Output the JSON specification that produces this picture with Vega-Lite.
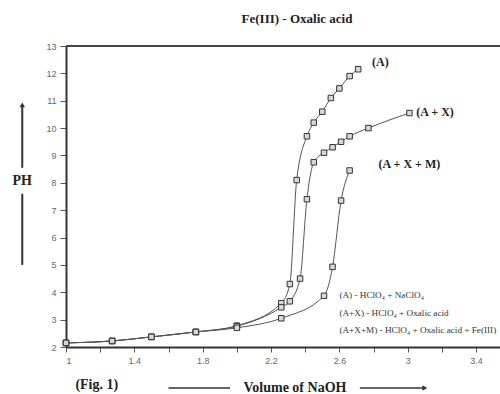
{
  "$schema": "https://vega.github.io/schema/vega-lite/v6.json",
  "autosize": "none",
  "width": 434,
  "height": 301,
  "padding": {"left": 66, "top": 46, "right": 0, "bottom": 47},
  "background": "white",
  "config": {"view": {"stroke": null}},
  "title": {"text": "Fe(III) - Oxalic acid", "font": "Liberation Serif", "fontSize": 13, "fontWeight": "bold", "color": "#222", "anchor": "middle", "offset": 16, "dx": 14},
  "datasets": {
    "curves": [
      {"series": "A", "v": 1.0, "ph": 2.15},
      {"series": "A", "v": 1.27, "ph": 2.22},
      {"series": "A", "v": 1.5, "ph": 2.37},
      {"series": "A", "v": 1.76, "ph": 2.55},
      {"series": "A", "v": 2.0, "ph": 2.78},
      {"series": "A", "v": 2.26, "ph": 3.6},
      {"series": "A", "v": 2.31, "ph": 4.3},
      {"series": "A", "v": 2.35, "ph": 8.1},
      {"series": "A", "v": 2.41, "ph": 9.7},
      {"series": "A", "v": 2.45, "ph": 10.2},
      {"series": "A", "v": 2.5, "ph": 10.6},
      {"series": "A", "v": 2.55, "ph": 11.1},
      {"series": "A", "v": 2.6, "ph": 11.45},
      {"series": "A", "v": 2.66, "ph": 11.9},
      {"series": "A", "v": 2.71, "ph": 12.15},
      {"series": "A+X", "v": 1.0, "ph": 2.15},
      {"series": "A+X", "v": 1.27, "ph": 2.22},
      {"series": "A+X", "v": 1.5, "ph": 2.37},
      {"series": "A+X", "v": 1.76, "ph": 2.55},
      {"series": "A+X", "v": 2.0, "ph": 2.76},
      {"series": "A+X", "v": 2.26, "ph": 3.45},
      {"series": "A+X", "v": 2.31, "ph": 3.67},
      {"series": "A+X", "v": 2.37, "ph": 4.5},
      {"series": "A+X", "v": 2.41, "ph": 7.4},
      {"series": "A+X", "v": 2.45, "ph": 8.75},
      {"series": "A+X", "v": 2.51, "ph": 9.1},
      {"series": "A+X", "v": 2.56, "ph": 9.3},
      {"series": "A+X", "v": 2.61, "ph": 9.5},
      {"series": "A+X", "v": 2.66, "ph": 9.7},
      {"series": "A+X", "v": 2.77, "ph": 10.0},
      {"series": "A+X", "v": 3.01, "ph": 10.55},
      {"series": "A+X+M", "v": 1.0, "ph": 2.15},
      {"series": "A+X+M", "v": 1.27, "ph": 2.22},
      {"series": "A+X+M", "v": 1.5, "ph": 2.37},
      {"series": "A+X+M", "v": 1.76, "ph": 2.55},
      {"series": "A+X+M", "v": 2.0, "ph": 2.7},
      {"series": "A+X+M", "v": 2.26, "ph": 3.05},
      {"series": "A+X+M", "v": 2.51, "ph": 3.87},
      {"series": "A+X+M", "v": 2.56, "ph": 4.93},
      {"series": "A+X+M", "v": 2.61, "ph": 7.35},
      {"series": "A+X+M", "v": 2.66, "ph": 8.45}
    ],
    "one": [{}]
  },
  "encoding": {
    "x": {"type": "quantitative", "scale": {"domain": [1, 3.54], "nice": false, "zero": false},
      "axis": {"values": [1, 1.2, 1.4, 1.6, 1.8, 2, 2.2, 2.4, 2.6, 2.8, 3, 3.2, 3.4], "format": "~g",
        "labelExpr": "round(datum.value*10) % 4 == 2 ? datum.label : ''", "labelOverlap": false,
        "grid": false, "title": null, "domainColor": "#333", "domainWidth": 2,
        "tickColor": "#555", "tickSize": 5, "labelColor": "#666", "labelFont": "Liberation Sans", "labelFontSize": 9, "labelPadding": 4}},
    "y": {"type": "quantitative", "scale": {"domain": [2, 13], "nice": false, "zero": false},
      "axis": {"values": [2, 3, 4, 5, 6, 7, 8, 9, 10, 11, 12, 13], "tickCount": 12, "format": "d", "labelOverlap": false, "grid": false, "title": null,
        "domainColor": "#333", "domainWidth": 2, "tickColor": "#555", "tickSize": 6,
        "labelColor": "#666", "labelFont": "Liberation Sans", "labelFontSize": 9, "labelPadding": 4}}
  },
  "layer": [
    {
      "data": {"name": "curves"},
      "mark": {"type": "line", "interpolate": "monotone", "color": "#555", "strokeWidth": 1},
      "encoding": {
        "x": {"field": "v"},
        "y": {"field": "ph"},
        "detail": {"field": "series", "type": "nominal"}
      }
    },
    {
      "data": {"name": "curves"},
      "mark": {"type": "point", "shape": "square", "size": 30, "filled": true, "fill": "#d8d8d8", "stroke": "#333", "strokeWidth": 1, "opacity": 1},
      "encoding": {
        "x": {"field": "v"},
        "y": {"field": "ph"}
      }
    },
    {
      "data": {"name": "one"},
      "mark": {"type": "rule", "color": "#444", "strokeWidth": 2},
      "encoding": {"x": {"datum": 1}, "x2": {"datum": 3.54}, "y": {"datum": 13}}
    },
    {
      "data": {"name": "one"},
      "mark": {"type": "text", "font": "Liberation Serif", "fontSize": 12, "fontWeight": "bold", "color": "#222", "align": "center", "baseline": "middle"},
      "encoding": {"x": {"datum": 2.84}, "y": {"datum": 12.42}, "text": {"value": "(A)"}}
    },
    {
      "data": {"name": "one"},
      "mark": {"type": "text", "font": "Liberation Serif", "fontSize": 12, "fontWeight": "bold", "color": "#222", "align": "center", "baseline": "middle"},
      "encoding": {"x": {"datum": 3.16}, "y": {"datum": 10.59}, "text": {"value": "(A + X)"}}
    },
    {
      "data": {"name": "one"},
      "mark": {"type": "text", "font": "Liberation Serif", "fontSize": 12, "fontWeight": "bold", "color": "#222", "align": "center", "baseline": "middle"},
      "encoding": {"x": {"datum": 3.01}, "y": {"datum": 8.69}, "text": {"value": "(A + X + M)"}}
    },
    {
      "data": {"name": "one"},
      "mark": {"type": "text", "font": "Liberation Serif", "fontSize": 9.2, "color": "#333", "align": "left", "baseline": "middle"},
      "encoding": {"x": {"datum": 2.6}, "y": {"datum": 3.9}, "text": {"value": "(A) - HClO₄ + NaClO₄"}}
    },
    {
      "data": {"name": "one"},
      "mark": {"type": "text", "font": "Liberation Serif", "fontSize": 9.2, "color": "#333", "align": "left", "baseline": "middle"},
      "encoding": {"x": {"datum": 2.6}, "y": {"datum": 3.24}, "text": {"value": "(A+X) - HClO₄ + Oxalic acid"}}
    },
    {
      "data": {"name": "one"},
      "mark": {"type": "text", "font": "Liberation Serif", "fontSize": 9.2, "color": "#333", "align": "left", "baseline": "middle"},
      "encoding": {"x": {"datum": 2.6}, "y": {"datum": 2.62}, "text": {"value": "(A+X+M) - HClO₄ + Oxalic acid + Fe(III)"}}
    },
    {
      "data": {"name": "one"},
      "mark": {"type": "text", "font": "Liberation Serif", "fontSize": 14, "fontWeight": "bold", "color": "#222", "align": "center", "baseline": "middle"},
      "encoding": {"x": {"datum": 0.744}, "y": {"datum": 8.06}, "text": {"value": "PH"}}
    },
    {
      "data": {"name": "one"},
      "mark": {"type": "rule", "color": "#333", "strokeWidth": 2},
      "encoding": {"x": {"datum": 0.744}, "y": {"datum": 8.55}, "y2": {"datum": 10.8}}
    },
    {
      "data": {"name": "one"},
      "mark": {"type": "rule", "color": "#333", "strokeWidth": 2},
      "encoding": {"x": {"datum": 0.744}, "y": {"datum": 5.0}, "y2": {"datum": 7.6}}
    },
    {
      "data": {"name": "one"},
      "mark": {"type": "point", "shape": "triangle-up", "size": 30, "filled": true, "color": "#333", "opacity": 1},
      "encoding": {"x": {"datum": 0.744}, "y": {"datum": 10.85}}
    },
    {
      "data": {"name": "one"},
      "mark": {"type": "text", "font": "Liberation Serif", "fontSize": 14, "fontWeight": "bold", "color": "#222", "align": "center", "baseline": "middle"},
      "encoding": {"x": {"datum": 2.34}, "y": {"datum": 0.5}, "text": {"value": "Volume of NaOH"}}
    },
    {
      "data": {"name": "one"},
      "mark": {"type": "rule", "color": "#333", "strokeWidth": 1.5},
      "encoding": {"x": {"datum": 1.6}, "x2": {"datum": 1.96}, "y": {"datum": 0.5}}
    },
    {
      "data": {"name": "one"},
      "mark": {"type": "rule", "color": "#333", "strokeWidth": 1.5},
      "encoding": {"x": {"datum": 2.72}, "x2": {"datum": 3.09}, "y": {"datum": 0.5}}
    },
    {
      "data": {"name": "one"},
      "mark": {"type": "point", "shape": "triangle-right", "size": 30, "filled": true, "color": "#333", "opacity": 1},
      "encoding": {"x": {"datum": 3.1}, "y": {"datum": 0.5}}
    },
    {
      "data": {"name": "one"},
      "mark": {"type": "text", "font": "Liberation Serif", "fontSize": 14, "fontWeight": "bold", "color": "#222", "align": "center", "baseline": "middle"},
      "encoding": {"x": {"datum": 1.18}, "y": {"datum": 0.61}, "text": {"value": "(Fig. 1)"}}
    }
  ]
}
